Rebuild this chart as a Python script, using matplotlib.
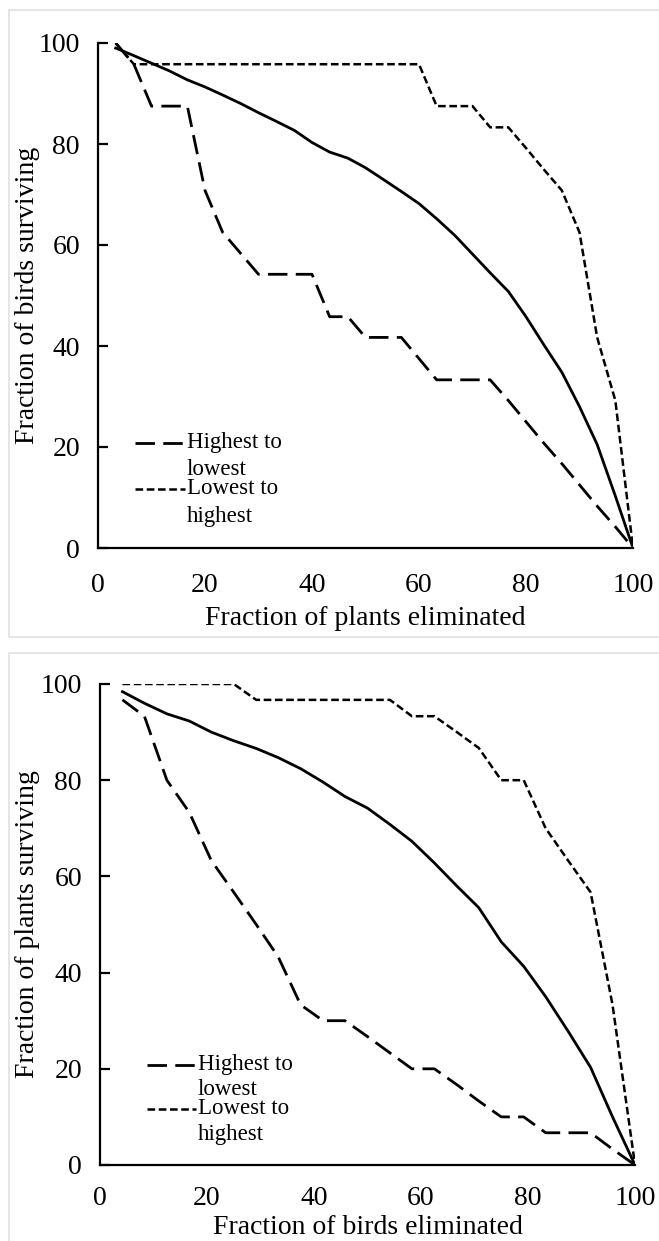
import matplotlib
matplotlib.use("Agg")
import matplotlib.pyplot as plt
from matplotlib.patches import Rectangle

# ---------------- data ----------------
plants_elim = [3.3, 6.7, 10, 13.3, 16.7, 20, 23.3, 26.7, 30, 33.3, 36.7, 40, 43.3, 46.7, 50,
               53.3, 56.7, 60, 63.3, 66.7, 70, 73.3, 76.7, 80, 83.3, 86.7, 90, 93.3, 96.7, 100]
birds_random = [99, 97.5, 96, 94.5, 92.7, 91.3, 89.7, 88, 86.2, 84.5, 82.7, 80.3, 78.4, 77.2, 75.3,
                73, 70.6, 68.2, 65.2, 61.9, 58.2, 54.5, 50.8, 45.8, 40.3, 34.8, 28, 20.5, 10.3, 0]
birds_high_low = [100, 95.8, 87.5, 87.5, 87.5, 70.8, 62.5, 58.3, 54.2, 54.2, 54.2, 54.2, 45.8, 45.8, 41.7,
                  41.7, 41.7, 37.5, 33.3, 33.3, 33.3, 33.3, 29.2, 25, 20.8, 16.7, 12.5, 8.3, 4.2, 0]
birds_low_high = [100, 95.8, 95.8, 95.8, 95.8, 95.8, 95.8, 95.8, 95.8, 95.8, 95.8, 95.8, 95.8, 95.8, 95.8,
                  95.8, 95.8, 95.8, 87.5, 87.5, 87.5, 83.3, 83.3, 79.2, 75, 70.8, 62.5, 41.7, 29.2, 0]

birds_elim = [4.2, 8.3, 12.5, 16.7, 20.8, 25, 29.2, 33.3, 37.5, 41.7, 45.8, 50,
              54.2, 58.3, 62.5, 66.7, 70.8, 75, 79.2, 83.3, 87.5, 91.7, 95.8, 100]
plants_random = [98.4, 96, 93.8, 92.3, 90, 88.2, 86.6, 84.7, 82.4, 79.6, 76.6, 74.2,
                 70.8, 67.3, 62.8, 58, 53.5, 46.4, 41.3, 35, 27.8, 20.3, 10, 0]
plants_high_low = [96.7, 93.3, 80, 73.3, 63.3, 56.7, 50, 43.3, 33.3, 30, 30, 26.7,
                   23.3, 20, 20, 16.7, 13.3, 10, 10, 6.7, 6.7, 6.7, 3.3, 0]
plants_low_high = [100, 100, 100, 100, 100, 100, 96.7, 96.7, 96.7, 96.7, 96.7, 96.7,
                   96.7, 93.3, 93.3, 90, 86.7, 80, 80, 70, 63.3, 56.7, 33.3, 0]

ticks = [0, 20, 40, 60, 80, 100]
legend_labels = ["Highest to\nlowest", "Lowest to\nhighest"]

# ---------------- style ----------------
plt.rcParams['font.family'] = ['Liberation Serif', 'DejaVu Serif']
plt.rcParams['lines.scale_dashes'] = False

W, H = 659, 1241
fig = plt.figure(figsize=(W / 100, H / 100), dpi=100)

LONG = (0, (14, 6))
SHORT = (0, (5.5, 2.6))
LW = 2.0
TICKFS = 20
LABFS = 20
LEGFS = 16.5


def px_axes(left, right, top, bottom):
    return [left / W, 1 - bottom / H, (right - left) / W, (bottom - top) / H]


def panel(rect, x, rnd, hl, lh, xlabel, ylabel, ylab_x, xlab_y, xtick_pad, leg_x0):
    ax = fig.add_axes(rect)
    ax.plot(x, rnd, color='black', lw=LW, solid_joinstyle='round')
    ax.plot(x, hl, color='black', lw=LW, linestyle=LONG)
    ax.plot(x, lh, color='black', lw=LW * 0.9, linestyle=SHORT)
    ax.set_xlim(0, 100)
    ax.set_ylim(0, 100)
    ax.set_xticks(ticks)
    ax.set_yticks(ticks)
    for s in ['top', 'right']:
        ax.spines[s].set_visible(False)
    for s in ['left', 'bottom']:
        ax.spines[s].set_linewidth(1.6)
    ax.tick_params(axis='y', direction='in', length=7, width=1.6, labelsize=TICKFS, pad=13)
    ax.tick_params(axis='x', length=0, labelsize=TICKFS, pad=xtick_pad)
    ax.set_xlabel(xlabel, fontsize=LABFS)
    ax.set_ylabel(ylabel, fontsize=LABFS)
    ax.xaxis.set_label_coords(0.5, xlab_y)
    ax.xaxis.label.set_va('center')
    ax.yaxis.set_label_coords(ylab_x, 0.5)
    ax.yaxis.label.set_va('center')
    # legend (drawn manually to keep handle next to the first text line)
    ys = [(20.8, 15.6), (11.7, 6.3)]
    styles = [(LONG, LW), (SHORT, LW * 0.9)]
    for (y1, y2), (ls, lw), lab in zip(ys, styles, legend_labels):
        ax.plot([leg_x0, leg_x0 + 9.2], [y1, y1], color='black', lw=lw, linestyle=ls)
        l1, l2 = lab.split("\n")
        ax.text(leg_x0 + 9.6, y1, l1, fontsize=LEGFS, va='center', ha='left')
        ax.text(leg_x0 + 9.6, y2, l2, fontsize=LEGFS, va='center', ha='left')
    return ax


panel(px_axes(98, 633, 43, 548), plants_elim, birds_random, birds_high_low, birds_low_high,
      "Fraction of plants eliminated", "Fraction of birds surviving",
      -0.131, -0.139, 18, 7.0)
panel(px_axes(100, 635, 684, 1165), birds_elim, plants_random, plants_high_low, plants_low_high,
      "Fraction of birds eliminated", "Fraction of plants surviving",
      -0.135, -0.13, 15, 8.7)

# panel frames
fig.patches.append(Rectangle((8.5 / W, 1 - 637 / H), 1.0, (637 - 10) / H, transform=fig.transFigure,
                             fill=False, edgecolor='#e3e3e3', lw=1.3))
fig.patches.append(Rectangle((8.5 / W, -0.01), 1.0, 0.01 + 1 - 653 / H, transform=fig.transFigure,
                             fill=False, edgecolor='#e3e3e3', lw=1.3))

fig.savefig("out.png", dpi=100, facecolor='white')
